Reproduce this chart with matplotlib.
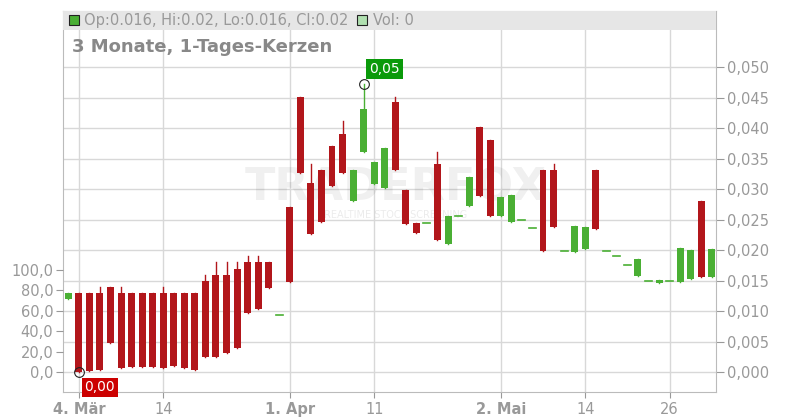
import matplotlib
matplotlib.use("Agg")
import matplotlib.pyplot as plt
from matplotlib.patches import Rectangle

opens = [0.0119,0.0130,0.0130,0.0130,0.0139,0.0130,0.0130,0.0130,0.0130,0.0130,
         0.0130,0.0130,0.0130,0.0149,0.0159,0.0159,0.0169,0.0181,0.0181,0.0181,
         0.0093,0.0270,0.0451,0.0310,0.0331,0.0370,0.0390,0.0281,0.0360,0.0309,
         0.0301,0.0442,0.0298,0.0244,0.0244,0.0341,0.0210,0.0256,0.0273,0.0402,
         0.0380,0.0256,0.0246,0.0249,0.0236,0.0331,0.0331,0.0198,0.0197,0.0201,
         0.0331,0.0198,0.0191,0.0175,0.0158,0.0150,0.0146,0.0150,0.0148,0.0153,
         0.0280,0.0156]
closes = [0.0130,0.0000,0.0001,0.0004,0.0048,0.0006,0.0008,0.0008,0.0008,0.0006,
          0.0010,0.0006,0.0004,0.0025,0.0025,0.0031,0.0040,0.0097,0.0104,0.0137,
          0.0093,0.0148,0.0326,0.0227,0.0246,0.0305,0.0327,0.0331,0.0431,0.0344,
          0.0367,0.0332,0.0243,0.0228,0.0244,0.0217,0.0256,0.0256,0.0320,0.0289,
          0.0256,0.0287,0.0290,0.0249,0.0236,0.0199,0.0237,0.0198,0.0239,0.0238,
          0.0235,0.0198,0.0191,0.0175,0.0185,0.0150,0.0151,0.0150,0.0203,0.0200,
          0.0156,0.0202]
highs = [0.0130,0.0130,0.0130,0.0139,0.0139,0.0139,0.0130,0.0130,0.0130,0.0139,
         0.0130,0.0130,0.0130,0.0159,0.0181,0.0181,0.0181,0.0190,0.0190,0.0181,
         0.0093,0.0270,0.0451,0.0341,0.0331,0.0370,0.0411,0.0331,0.0472,0.0344,
         0.0367,0.0451,0.0298,0.0244,0.0244,0.0361,0.0256,0.0256,0.0320,0.0402,
         0.0380,0.0287,0.0290,0.0249,0.0236,0.0331,0.0341,0.0198,0.0239,0.0238,
         0.0331,0.0198,0.0191,0.0175,0.0185,0.0150,0.0151,0.0150,0.0203,0.0200,
         0.0280,0.0202]
lows = [min(o, c) for o, c in zip(opens, closes)]
tick_idx = [1, 9, 21, 29, 41, 49, 57]
tick_labels = ["4. Mär", "14", "1. Apr", "11", "2. Mai", "14", "26"]
price_ticks = [0.000,0.005,0.010,0.015,0.020,0.025,0.030,0.035,0.040,0.045,0.050]
vol_ticks = [0, 20, 40, 60, 80, 100]

RED = "#b2161b"; GREEN = "#4aaf34"; GRID = "#d8d8d8"; TXT = "#999999"

fig = plt.figure(figsize=(8, 4.2), dpi=100)
ax = fig.add_axes([63/800, 28/420, 653/800, 381/420])
ax2 = ax.twinx()
ax.set_xlim(-0.5, 61.4)
ax.set_ylim(-0.00328, 0.0592)

for t in price_ticks:
    ax.axhline(t, color=GRID, lw=1, zorder=0)
for t in tick_idx:
    ax.axvline(t, color=GRID, lw=1, zorder=0)

w = 0.66
for i, (o, h, l, c) in enumerate(zip(opens, highs, lows, closes)):
    col = RED if c < o else GREEN
    ax.plot([i, i], [l, h], color=col, lw=1, zorder=2)
    if abs(c - o) < 1e-9:
        ax.plot([i - w/2, i + w/2], [o, o], color=GREEN, lw=1.2, zorder=3)
    else:
        ax.add_patch(Rectangle((i - w/2, min(o, c)), w, abs(c - o), color=col, lw=0, zorder=3))

hi_i = max(range(len(highs)), key=lambda k: highs[k])
lo_i = min(range(len(lows)), key=lambda k: lows[k])
ax.plot(hi_i, highs[hi_i], 'o', ms=7, mfc='none', mec='#222222', mew=0.8, zorder=5)
ax.plot(lo_i, lows[lo_i], 'o', ms=7, mfc='none', mec='#222222', mew=0.8, zorder=5)
ax.annotate("0,05", (hi_i, highs[hi_i]), xytext=(4, 8), textcoords="offset points",
            color="white", fontsize=10, bbox=dict(boxstyle="square,pad=0.2", fc="#0a9a0a", ec="none"), zorder=6)
ax.annotate("0,00", (lo_i, lows[lo_i]), xytext=(4, -14), textcoords="offset points",
            color="white", fontsize=10, bbox=dict(boxstyle="square,pad=0.2", fc="#cc0000", ec="none"), zorder=6)

ax.text(0.51, 0.535, "TRADERFOX", transform=ax.transAxes, ha="center", va="center",
        fontsize=32, fontweight="bold", color="#000000", alpha=0.06, zorder=1)
ax.text(0.51, 0.465, "REALTIME STOCK SCREENING", transform=ax.transAxes, ha="center", va="center",
        fontsize=7, color="#000000", alpha=0.08, zorder=1)

ax.set_xticks(tick_idx)
ax.set_xticklabels(tick_labels)
for lbl, b in zip(ax.get_xticklabels(), [True, False, True, False, True, False, False]):
    lbl.set_fontweight("bold" if b else "normal")
ax.set_yticks(price_ticks)
ax.set_yticklabels([f"{t:.3f}".replace(".", ",") for t in price_ticks])
ax.yaxis.tick_right()
ax.tick_params(axis="both", colors=TXT, labelsize=10.5)
ax.tick_params(axis="y", length=6, pad=2)
ax.tick_params(axis="x", length=4, pad=3)
for s in ["left", "right", "bottom", "top"]:
    ax.spines[s].set_color("#bbbbbb")

ax2.set_ylim(-19.6, 353.9)
ax2.set_yticks(vol_ticks)
ax2.set_yticklabels([f"{v:.1f}".replace(".", ",") for v in vol_ticks])
ax2.yaxis.tick_left()
ax2.tick_params(axis="y", colors=TXT, labelsize=10.5, length=5, pad=2)
for s in ax2.spines.values():
    s.set_visible(False)

ax.add_patch(Rectangle((0, (392-30)/381), 1, 19/381, transform=ax.transAxes,
                       color="#e6e6e6", lw=0, zorder=4, clip_on=False))
ax.add_patch(Rectangle((6/653, (392-25)/381), 10/653, 10/381, transform=ax.transAxes,
                       fc=GREEN, ec="#222222", lw=0.8, zorder=5))
ax.text(21/653, (392-20.5)/381, "Op:0.016, Hi:0.02, Lo:0.016, Cl:0.02", transform=ax.transAxes,
        color=TXT, fontsize=10.5, va="center", zorder=5)
ax.add_patch(Rectangle((294/653, (392-25)/381), 10/653, 10/381, transform=ax.transAxes,
                       fc="#b0e0b0", ec="#222222", lw=0.8, zorder=5))
ax.text(310/653, (392-20.5)/381, "Vol: 0", transform=ax.transAxes,
        color=TXT, fontsize=10.5, va="center", zorder=5)
ax.text(9/653, (392-47)/381, "3 Monate, 1-Tages-Kerzen", transform=ax.transAxes,
        color="#888888", fontsize=13, fontweight="bold", va="center", zorder=5)

fig.savefig("out.png", dpi=100)
